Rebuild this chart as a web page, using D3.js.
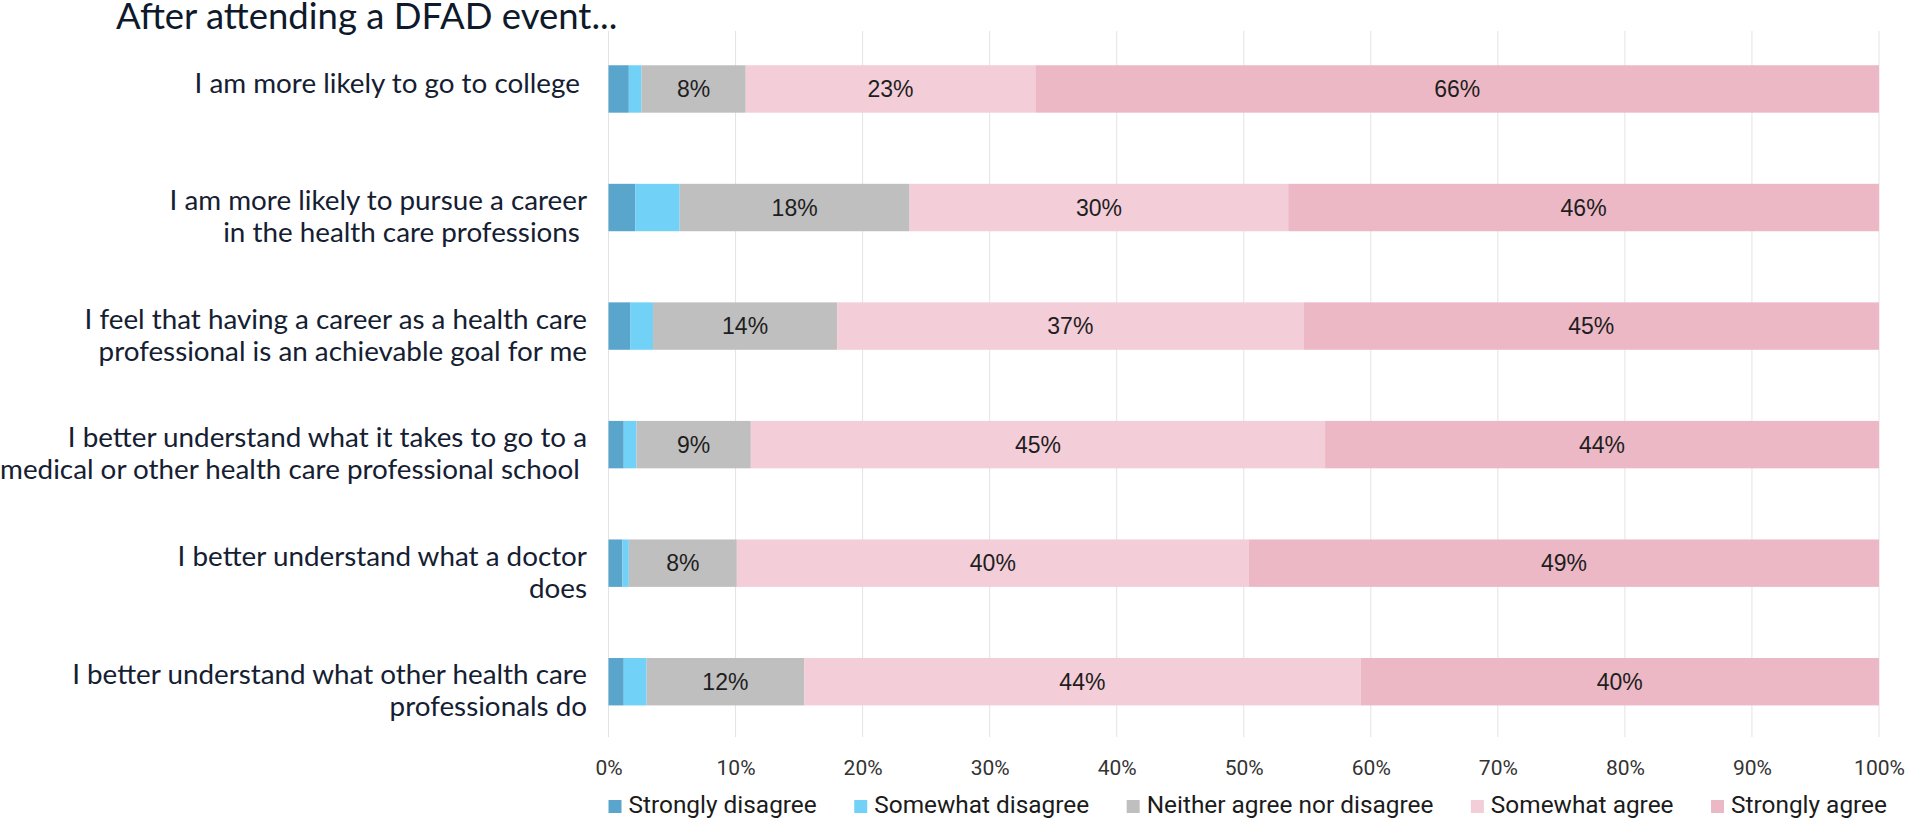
<!DOCTYPE html>
<html>
<head>
<meta charset="utf-8">
<script src="https://cdn.jsdelivr.net/npm/d3@7"></script>
<style>
  html, body { margin: 0; padding: 0; background: #fff; }
  svg { display: block; }
  text { white-space: pre; }
</style>
</head>
<body>
<svg id="chart"></svg>
<script>
// Statements (one array of lines per bar)
const statements = [
  ["I am more likely to go to college "],
  ["I am more likely to pursue a career", "in the health care professions "],
  ["I feel that having a career as a health care", "professional is an achievable goal for me"],
  ["I better understand what it takes to go to a", "medical or other health care professional school "],
  ["I better understand what a doctor", "does"],
  ["I better understand what other health care", "professionals do"]
];

const responses = ["Strongly disagree", "Somewhat disagree", "Neither agree nor disagree",
                   "Somewhat agree", "Strongly agree"];

// Share of answers per statement, in %
const stronglyDisagree = [1.6, 2.1, 1.7, 1.2, 1.1, 1.2];
const somewhatDisagree = [1.0, 3.5, 1.8, 1.0, 0.5, 1.8];
const neither          = [8.2, 18.1, 14.5, 9.0, 8.5, 12.4];
const somewhatAgree    = [22.8, 29.8, 36.7, 45.2, 40.3, 43.8];
const stronglyAgree    = [66.4, 46.5, 45.3, 43.6, 49.6, 40.8];

// Printed labels on the bars
const neitherLabels  = ["8%", "18%", "14%", "9%", "8%", "12%"];
const somewhatLabels = ["23%", "30%", "37%", "45%", "40%", "44%"];
const stronglyLabels = ["66%", "46%", "45%", "44%", "49%", "40%"];

const xTicks = [0, 0.1, 0.2, 0.3, 0.4, 0.5, 0.6, 0.7, 0.8, 0.9, 1];

const colors = ["#5aa5cb", "#72d1f6", "#bfbfbf", "#f3cdd8", "#edb8c5"];

const W = 1907, H = 823;
const svg = d3.select("#chart").attr("width", W).attr("height", H);

const series = [stronglyDisagree, somewhatDisagree, neither, somewhatAgree, stronglyAgree];
const labelSets = [null, null, neitherLabels, somewhatLabels, stronglyLabels];

const rows = statements.map((s, i) => {
  const r = { id: i };
  responses.forEach((k, j) => r[k] = series[j][i] / 100);
  return r;
});

const x = d3.scaleLinear().domain([0, 1]).range([608.5, 1879]);
const y = d3.scaleBand().domain(d3.range(statements.length))
  .range([29.7, 741]).paddingInner(0.6).paddingOuter(0.3);

// title
svg.append("text")
  .attr("x", 116).attr("y", 29)
  .attr("font-family", "Lato, sans-serif")
  .attr("font-size", 36.5)
  .attr("fill", "#0e1a2b")
  .text("After attending a DFAD event...");

// gridlines
svg.append("g")
  .selectAll("line")
  .data(xTicks)
  .join("line")
    .attr("x1", d => x(d)).attr("x2", d => x(d))
    .attr("y1", 31).attr("y2", 737)
    .attr("stroke", "#e3e3e3")
    .attr("stroke-width", 1);

// x axis labels
const xAxis = svg.append("g")
  .attr("transform", "translate(0,775)")
  .call(d3.axisBottom(x).tickValues(xTicks).tickFormat(d3.format(".0%")).tickSize(0).tickPadding(0));
xAxis.select(".domain").remove();
xAxis.selectAll("text")
  .attr("dy", 0)
  .attr("font-family", "Roboto, sans-serif")
  .attr("font-size", 21)
  .attr("fill", "#333");

// stacked bars
const stack = d3.stack().keys(responses)(rows);

const layers = svg.append("g")
  .selectAll("g")
  .data(stack)
  .join("g")
    .attr("fill", (d, i) => colors[i]);

layers.selectAll("rect")
  .data(d => d)
  .join("rect")
    .attr("x", d => x(d[0]))
    .attr("y", (d, i) => y(i))
    .attr("width", d => x(d[1]) - x(d[0]))
    .attr("height", y.bandwidth());

// value labels
stack.forEach((layer, j) => {
  if (!labelSets[j]) return;
  svg.append("g")
    .selectAll("text")
    .data(layer)
    .join("text")
      .attr("x", d => (x(d[0]) + x(d[1])) / 2)
      .attr("y", (d, i) => y(i) + y.bandwidth() / 2)
      .attr("text-anchor", "middle")
      .attr("dominant-baseline", "central")
      .attr("font-family", "'Liberation Sans', Arial, sans-serif")
      .attr("font-size", 23)
      .attr("fill", "#1e1e1e")
      .text((d, i) => labelSets[j][i]);
});

// category labels
const lineH = 32;
const cat = svg.append("g")
  .selectAll("text")
  .data(statements)
  .join("text")
    .attr("text-anchor", "end")
    .attr("font-family", "Lato, sans-serif")
    .attr("font-size", 27.8)
    .attr("fill", "#142032")
    .attr("transform", (d, i) => `translate(587,${y(i) + y.bandwidth() / 2})`);

cat.selectAll("tspan")
  .data(d => d.map((t, k) => ({ t, k, n: d.length })))
  .join("tspan")
    .attr("x", 0)
    .attr("y", d => d.n === 1 ? -6 : (d.k - 0.5) * lineH + 8)
    .attr("dominant-baseline", "central")
    .text(d => d.t);

// legend, spread across the width of the plot
const legend = svg.append("g").attr("transform", "translate(0,813)");
const items = legend.selectAll("g")
  .data(responses)
  .join("g");

items.append("rect")
  .attr("y", -13).attr("width", 13).attr("height", 13)
  .attr("fill", (d, i) => colors[i]);

items.append("text")
  .attr("x", 20)
  .attr("font-family", "Roboto, sans-serif")
  .attr("font-size", 24.4)
  .attr("fill", "#1b1b1b")
  .text(d => d);

const widths = [];
items.each(function() { widths.push(20 + d3.select(this).select("text").node().getComputedTextLength()); });
const gap = (1887 - x(0) - d3.sum(widths)) / (widths.length - 1);
let cx = x(0);
items.attr("transform", (d, i) => {
  const t = `translate(${cx},0)`;
  cx += widths[i] + gap;
  return t;
});
</script>
</body>
</html>
